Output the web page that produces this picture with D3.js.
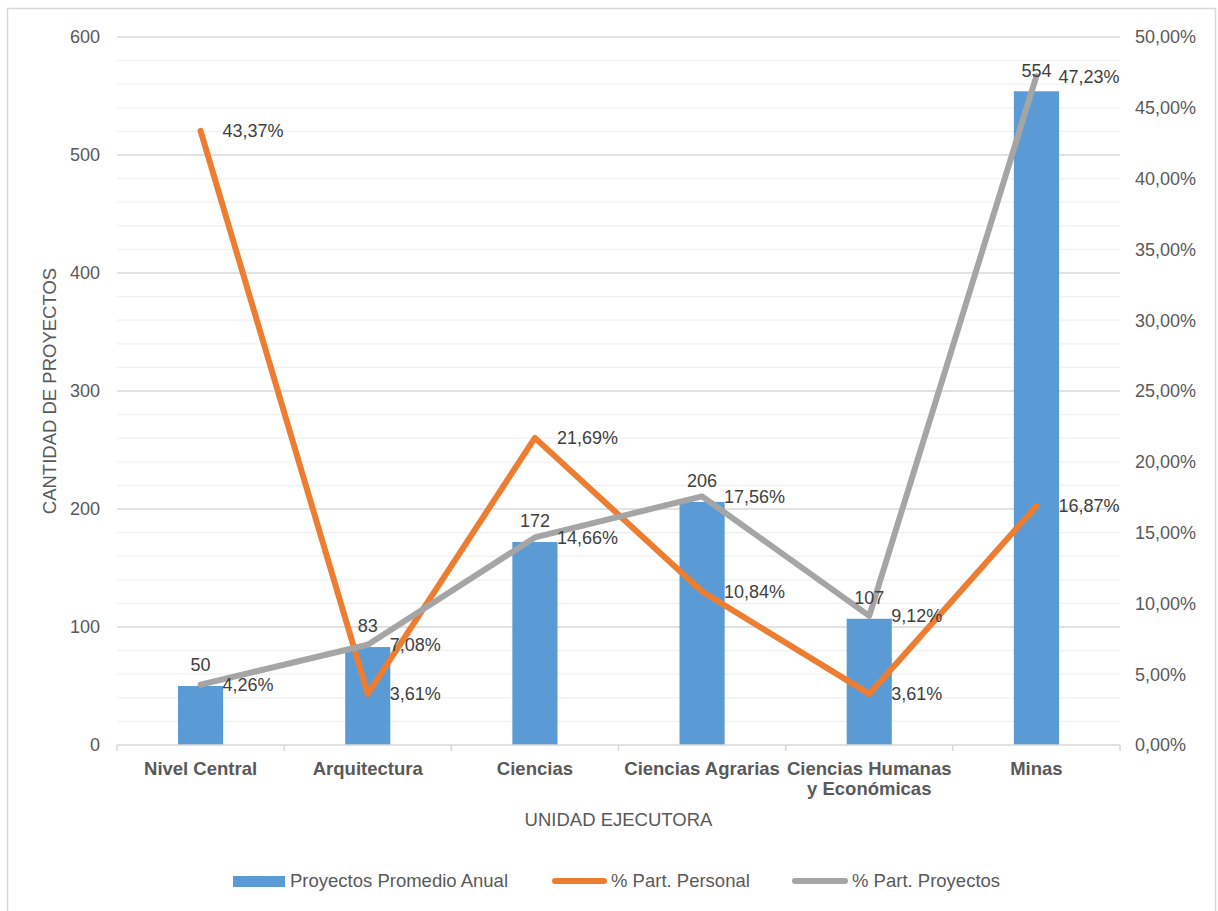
<!DOCTYPE html>
<html>
<head>
<meta charset="utf-8">
<script src="https://cdn.jsdelivr.net/npm/d3@7"></script>
<style>
  html, body { margin: 0; padding: 0; background: #fff; }
  svg { display: block; font-family: "Liberation Sans", Arial, sans-serif; }
</style>
</head>
<body>
<svg id="chart" width="1218" height="911"></svg>
<script>
// Unidades ejecutoras y series
const categories = ["Nivel Central", "Arquitectura", "Ciencias", "Ciencias Agrarias", "Ciencias Humanas y Económicas", "Minas"];
const categoryLines = [["Nivel Central"], ["Arquitectura"], ["Ciencias"], ["Ciencias Agrarias"], ["Ciencias Humanas", "y Económicas"], ["Minas"]];
const proyectosPromedio = [50, 83, 172, 206, 107, 554];
const partPersonal = [43.37, 3.61, 21.69, 10.84, 3.61, 16.87];
const partProyectos = [4.26, 7.08, 14.66, 17.56, 9.12, 47.23];
const leftTicks = [0, 100, 200, 300, 400, 500, 600];
const rightTicks = [0, 5, 10, 15, 20, 25, 30, 35, 40, 45, 50];

const svg = d3.select("#chart");
const plot = { left: 117, right: 1120, top: 37, bottom: 745 };
const textColor = "#595959";
const fs = 18;

// Borde del área del gráfico
svg.append("rect")
  .attr("x", 7.5).attr("y", 8.5)
  .attr("width", 1208).attr("height", 910)
  .attr("fill", "#fff").attr("stroke", "#d9d9d9").attr("stroke-width", 1.5);

const x = d3.scaleBand().domain(categories).range([plot.left, plot.right]).paddingInner(0).paddingOuter(0);
const yL = d3.scaleLinear().domain([0, 600]).range([plot.bottom, plot.top]);
const yR = d3.scaleLinear().domain([0, 50]).range([plot.bottom, plot.top]);

// Líneas de cuadrícula: secundarias cada 20, principales cada 100
const minor = d3.range(20, 600 + 1, 20).filter(v => v % 100 !== 0);
svg.append("g").selectAll("line").data(minor).join("line")
  .attr("x1", plot.left).attr("x2", plot.right)
  .attr("y1", d => yL(d)).attr("y2", d => yL(d))
  .attr("stroke", "#f0f0f0").attr("stroke-width", 1.3);
svg.append("g").selectAll("line").data(leftTicks.filter(v => v > 0)).join("line")
  .attr("x1", plot.left).attr("x2", plot.right)
  .attr("y1", d => yL(d)).attr("y2", d => yL(d))
  .attr("stroke", "#d9d9d9").attr("stroke-width", 1.3);

// Eje izquierdo
svg.append("g").selectAll("text").data(leftTicks).join("text")
  .attr("x", 100).attr("y", d => yL(d)).attr("dy", "0.35em")
  .attr("text-anchor", "end").attr("font-size", fs).attr("fill", textColor)
  .text(d => d);

// Eje derecho
const fmtPct = v => v.toFixed(2).replace(".", ",") + "%";
svg.append("g").selectAll("text").data(rightTicks).join("text")
  .attr("x", 1135).attr("y", d => yR(d)).attr("dy", "0.35em")
  .attr("text-anchor", "start").attr("font-size", fs).attr("fill", textColor)
  .text(d => fmtPct(d));

// Barras
const barW = x.bandwidth() * 0.27;
svg.append("g").selectAll("rect").data(proyectosPromedio).join("rect")
  .attr("x", (d, i) => x(categories[i]) + x.bandwidth() / 2 - barW / 2)
  .attr("y", d => yL(d))
  .attr("width", barW)
  .attr("height", d => yL(0) - yL(d))
  .attr("fill", "#5B9BD5");

// Eje X
svg.append("line")
  .attr("x1", plot.left).attr("x2", plot.right)
  .attr("y1", plot.bottom).attr("y2", plot.bottom)
  .attr("stroke", "#d9d9d9").attr("stroke-width", 1.5);
const bounds = categories.map(c => x(c)).concat([plot.right]);
svg.append("g").selectAll("line").data(bounds).join("line")
  .attr("x1", d => d).attr("x2", d => d)
  .attr("y1", plot.bottom).attr("y2", plot.bottom + 6)
  .attr("stroke", "#d9d9d9").attr("stroke-width", 1.5);

const catG = svg.append("g");
categoryLines.forEach((lines, i) => {
  const cx = x(categories[i]) + x.bandwidth() / 2;
  lines.forEach((t, j) => {
    catG.append("text")
      .attr("x", cx).attr("y", 769 + j * 20).attr("dy", "0.35em")
      .attr("text-anchor", "middle").attr("font-size", 18.5).attr("font-weight", "bold")
      .attr("fill", textColor).text(t);
  });
});

// Líneas
const cx = (d, i) => x(categories[i]) + x.bandwidth() / 2;
const line = d3.line().x(cx).y(d => yR(d));
svg.append("path").datum(partPersonal).attr("d", line)
  .attr("fill", "none").attr("stroke", "#ED7D31").attr("stroke-width", 6)
  .attr("stroke-linejoin", "round").attr("stroke-linecap", "round");
svg.append("path").datum(partProyectos).attr("d", line)
  .attr("fill", "none").attr("stroke", "#A5A5A5").attr("stroke-width", 6)
  .attr("stroke-linejoin", "round").attr("stroke-linecap", "round");

// Etiquetas de datos
svg.append("g").selectAll("text").data(proyectosPromedio).join("text")
  .attr("x", cx).attr("y", d => yL(d) - 21).attr("dy", "0.35em")
  .attr("text-anchor", "middle").attr("font-size", fs).attr("fill", "#404040")
  .text(d => d);
[partPersonal, partProyectos].forEach(series => {
  svg.append("g").selectAll("text").data(series).join("text")
    .attr("x", (d, i) => cx(d, i) + 22).attr("y", d => yR(d)).attr("dy", "0.35em")
    .attr("text-anchor", "start").attr("font-size", fs).attr("fill", "#404040")
    .text(d => fmtPct(d));
});

// Títulos de ejes
svg.append("text")
  .attr("transform", "translate(50," + ((plot.top + plot.bottom) / 2) + ") rotate(-90)")
  .attr("dy", "0.35em").attr("text-anchor", "middle")
  .attr("font-size", 18.5).attr("fill", textColor).text("CANTIDAD DE PROYECTOS");
svg.append("text")
  .attr("x", (plot.left + plot.right) / 2).attr("y", 820).attr("dy", "0.35em")
  .attr("text-anchor", "middle").attr("font-size", 18.5).attr("fill", textColor)
  .text("UNIDAD EJECUTORA");

// Leyenda
const legend = svg.append("g");
legend.append("rect").attr("x", 233).attr("y", 876).attr("width", 52).attr("height", 11).attr("fill", "#5B9BD5");
legend.append("text").attr("x", 290).attr("y", 881).attr("dy", "0.35em")
  .attr("font-size", 18.5).attr("fill", textColor).text("Proyectos Promedio Anual");
legend.append("line").attr("x1", 555).attr("x2", 604).attr("y1", 881).attr("y2", 881)
  .attr("stroke", "#ED7D31").attr("stroke-width", 6).attr("stroke-linecap", "round");
legend.append("text").attr("x", 611).attr("y", 881).attr("dy", "0.35em")
  .attr("font-size", 18.5).attr("fill", textColor).text("% Part. Personal");
legend.append("line").attr("x1", 795).attr("x2", 845).attr("y1", 881).attr("y2", 881)
  .attr("stroke", "#A5A5A5").attr("stroke-width", 6).attr("stroke-linecap", "round");
legend.append("text").attr("x", 852).attr("y", 881).attr("dy", "0.35em")
  .attr("font-size", 18.5).attr("fill", textColor).text("% Part. Proyectos");
</script>
</body>
</html>
